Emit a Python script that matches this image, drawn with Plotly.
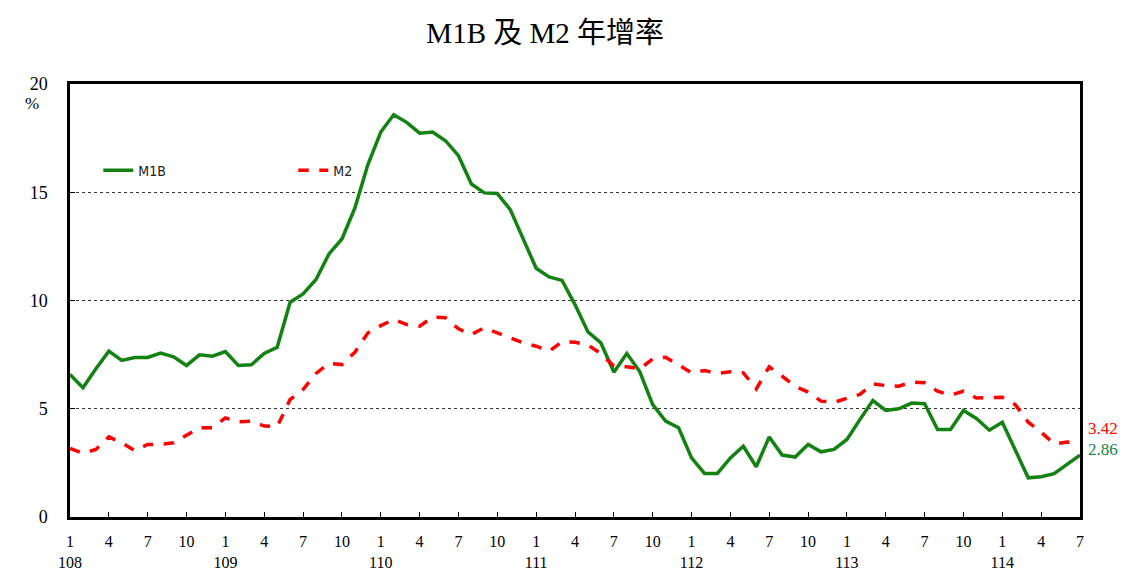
import plotly.graph_objects as go

# Monthly year-over-year growth rates (%), 108/01 .. 114/07
m1b = [6.58, 5.97, 6.85, 7.66, 7.23, 7.37, 7.37, 7.57, 7.40, 7.00, 7.49, 7.43,
       7.64, 7.00, 7.03, 7.55, 7.84, 9.92, 10.30, 10.97, 12.15, 12.84, 14.27, 16.27,
       17.78, 18.58, 18.23, 17.73, 17.78, 17.38, 16.69, 15.38, 14.97, 14.94, 14.20, 12.81,
       11.49, 11.09, 10.93, 9.81, 8.55, 8.04, 6.69, 7.55, 6.72, 5.19, 4.43, 4.12,
       2.73, 2.01, 2.01, 2.73, 3.27, 2.32, 3.70, 2.86, 2.77, 3.35, 3.01, 3.12,
       3.58, 4.50, 5.38, 4.92, 5.00, 5.26, 5.23, 4.04, 4.04, 4.92, 4.55, 4.01,
       4.38, 3.10, 1.81, 1.86, 2.00, 2.43, 2.86]
m2 = [3.17, 2.94, 3.12, 3.70, 3.43, 3.07, 3.35, 3.35, 3.43, 3.77, 4.12, 4.12,
      4.58, 4.40, 4.43, 4.20, 4.17, 5.43, 5.89, 6.63, 7.09, 7.04, 7.61, 8.50,
      8.84, 9.12, 8.89, 8.81, 9.23, 9.20, 8.69, 8.43, 8.74, 8.50, 8.27, 8.04,
      7.89, 7.66, 8.09, 8.07, 7.94, 7.55, 6.97, 6.94, 6.84, 7.30, 7.38, 7.00,
      6.66, 6.77, 6.63, 6.71, 6.66, 5.92, 6.94, 6.50, 6.04, 5.77, 5.35, 5.30,
      5.47, 5.66, 6.15, 6.07, 6.04, 6.23, 6.20, 5.81, 5.63, 5.81, 5.50, 5.50,
      5.53, 5.19, 4.38, 3.92, 3.38, 3.46, 3.42]

start_year = 108
months = list(range(len(m1b)))
tick_idx = list(range(0, len(m1b), 3))
tick_text = []
for i in tick_idx:
    mon = i % 12 + 1
    yr = start_year + i // 12
    tick_text.append(f"{mon}<br>{yr}" if mon == 1 else str(mon))

GREEN = "#138213"
RED = "#ff0000"
SERIF = "Liberation Serif, Times New Roman, Noto Sans CJK TC, serif"
LEGFONT = "DejaVu Sans Condensed, Liberation Sans Narrow, Noto Sans CJK TC, sans-serif"

fig = go.Figure()
fig.add_trace(go.Scatter(x=months, y=m1b, mode="lines", name="M1B",
                         line=dict(color=GREEN, width=3.5)))
fig.add_trace(go.Scatter(x=months, y=m2, mode="lines", name="M2",
                         line=dict(color=RED, width=3.5, dash="dash")))

fig.update_layout(
    width=1143, height=586,
    margin=dict(l=62, r=71, t=76, b=77),
    paper_bgcolor="white", plot_bgcolor="white",
    title=dict(text="M1B 及 M2 年增率", x=0.470, xanchor="center", y=0.957, yanchor="middle",
               font=dict(family=SERIF, size=29, color="black")),
    showlegend=True,
    legend=dict(orientation="h", x=0.028, y=0.80, xanchor="left", yanchor="middle",
                entrywidth=150, entrywidthmode="pixels",
                font=dict(family=LEGFONT, size=14, color="#222"),
                bgcolor="rgba(0,0,0,0)"),
    font=dict(family=SERIF, size=16, color="black"),
)

fig.update_xaxes(range=[0, len(m1b) - 1], tickvals=tick_idx, ticktext=tick_text,
                 ticks="inside", ticklen=5, tickcolor="black", tickwidth=1,
                 showline=True, linecolor="black", linewidth=2.5, mirror=True,
                 showgrid=False, zeroline=False, ticklabelstandoff=8,
                 tickfont=dict(family=SERIF, size=16, color="black"))
fig.update_yaxes(range=[0, 20], dtick=5, tick0=0,
                 ticks="inside", ticklen=5, tickcolor="black", tickwidth=1,
                 showline=True, linecolor="black", linewidth=2.5, mirror=True,
                 showgrid=True, gridcolor="#333", gridwidth=1, griddash="dot",
                 zeroline=False, ticklabelstandoff=16,
                 tickfont=dict(family=SERIF, size=18, color="black"))

fig.add_annotation(text="%", xref="paper", yref="paper", x=-0.038, y=0.955,
                   xanchor="center", yanchor="middle", showarrow=False,
                   font=dict(family=SERIF, size=17, color="black"))
# end-value labels, stacked just right of the last point
mid = (m2[-1] + m1b[-1]) / 2 + 0.55
fig.add_annotation(text=f"{m2[-1]:.2f}", xref="x", yref="y", x=months[-1], y=mid,
                   xanchor="left", yanchor="bottom", xshift=7, yshift=-2, showarrow=False,
                   borderpad=0, font=dict(family=SERIF, size=17, color=RED))
fig.add_annotation(text=f"{m1b[-1]:.2f}", xref="x", yref="y", x=months[-1], y=mid,
                   xanchor="left", yanchor="top", xshift=7, yshift=-2, showarrow=False,
                   borderpad=0, font=dict(family=SERIF, size=17, color="#15864a"))

fig.write_html("out.html")
